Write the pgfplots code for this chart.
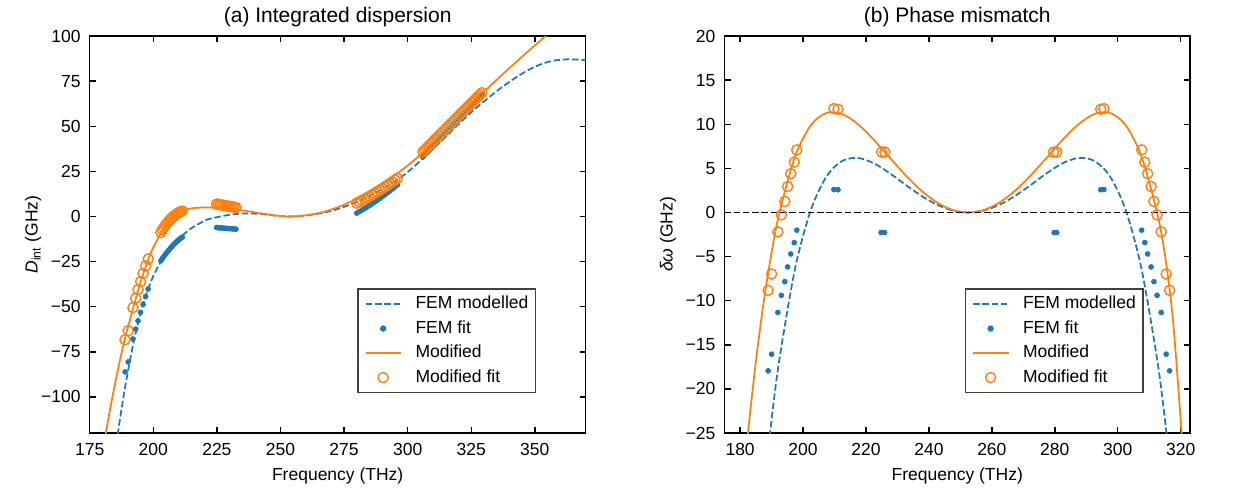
\documentclass[border=0pt]{standalone}
\usepackage{fontspec}
\setmainfont{Liberation Sans}
\usepackage{pgfplots}
\pgfplotsset{compat=1.18}
\definecolor{tabblue}{HTML}{1F77B4}
\definecolor{taborange}{HTML}{FF7F0E}

\pgfplotsset{
  mpl/.style={
    scale only axis,
    height=226.8pt,
    axis line style={line width=0.8pt},
    every tick/.style={line width=0.8pt, black},
    major tick length=3.5pt,
    tick align=inside,
    minor tick num=0,
    /pgf/number format/assume math mode=true,
    tick label style={font=\fontsize{10}{12}\selectfont},
    xticklabel style={anchor=base, inner sep=0pt, yshift=-12.7pt},
    yticklabel style={anchor=east, inner sep=0pt, xshift=-5pt},
    label style={font=\fontsize{10}{12}\selectfont},
    every axis title/.style={at={(0.5,1)}, anchor=base, yshift=8pt,
      font=\fontsize{12}{14}\selectfont},
    xlabel style={at={(axis description cs:0.5,0)}, anchor=base, yshift=-27.3pt},
    legend cell align=left,
    legend image code/.code={%
      \draw[mark repeat=2,mark phase=2,#1]
        plot coordinates {(0pt,0pt) (10pt,0pt) (20pt,0pt)};},
    legend style={at={(0.9,0.1)}, anchor=south east, draw=black!75,
      line width=0.8pt, fill=white, inner xsep=4pt, inner ysep=4pt,
      row sep=4.8pt, column sep=8pt, font=\fontsize{10}{12}\selectfont,
      nodes={inner sep=0pt, text height=7.2pt, text depth=2pt}},
  },
  femline/.style={color=tabblue, line width=1pt, dash pattern=on 3.7pt off 1.6pt, smooth},
  femfit/.style={only marks, mark=*, mark size=1.4pt, color=tabblue,
    mark options={draw=tabblue, fill=tabblue}},
  modline/.style={color=taborange, line width=1pt, smooth},
  modfit/.style={only marks, mark=o, mark size=2.9pt, color=taborange,
    mark options={line width=0.8pt}},
}

\begin{document}
\begin{tikzpicture}
\useasboundingbox (0,0) rectangle (706.8pt,281.7pt);

% (a) integrated dispersion
\begin{axis}[
    mpl,
    at={(51.25pt,34.28pt)}, anchor=south west,
    width=283.4pt,
    title={(a) Integrated dispersion},
    xlabel={Frequency (THz)},
    ylabel={\textit{D}\textsubscript{int} (GHz)},
    ylabel style={at={(axis description cs:-0.114,0.5)}, anchor=center},
    xmin=175, xmax=370,
    ymin=-120, ymax=100,
    xtick={175,200,225,250,275,300,325,350},
    ytick={-100,-75,-50,-25,0,25,50,75,100},
    yticklabels={−100,−75,−50,−25,0,25,50,75,100},
]
\addplot[femline] coordinates {
(186,-121)(187,-111.5)(188,-102.5)(189,-94)(190,-86)(191,-78.5)(192,-71.5)
(193,-65)(194,-59)(195,-53.5)(196,-48.5)(197,-44)(198,-40)(200,-33)(202,-27.5)
(204,-22.6)(206,-18.7)(208,-15.3)(210,-12.3)(212,-9.8)(215,-6.5)(218,-4.0)
(221,-1.8)(224,-0.7)(228,0.5)(232,1.3)(236,1.7)(240,1.6)(244,1.1)(248,0.5)
(253,0)(257,0.3)(261,0.8)(265,1.6)(269,2.8)(273,4.4)(277,6.4)(281,8.7)
(285,11.4)(289,14.4)(293,17.7)(297,21.3)(301,25.8)(305,30.8)(309,36.1)
(313,41.5)(317,47)(321,52.5)(325,57.8)(329,62.6)(333,67.2)(337,71.6)
(341,75.6)(345,79.2)(349,82.3)(353,84.7)(357,86.3)(361,87.0)(365,87.1)(370,86.6)
};
\addlegendentry{FEM modelled}

\addplot[femfit] coordinates {
(188.9,-86.1)(190.1,-80.6)(192.0,-67.9)(193.1,-62.4)(194.0,-57.8)(195.0,-53.1)
(196.0,-48.7)(197.0,-44.4)(198.0,-40.2)
(203.0,-24.5)(203.6,-23.2)(204.2,-22.0)(204.8,-20.9)(205.4,-19.8)(206.0,-18.8)
(206.6,-17.8)(207.2,-16.8)(207.8,-15.9)(208.4,-15.0)(209.0,-14.2)(209.6,-13.4)
(210.2,-12.7)(210.8,-12.0)(211.4,-11.5)
(224.9,-6.1)(225.6,-6.2)(226.3,-6.3)(226.9,-6.35)(227.6,-6.45)(228.3,-6.5)
(229.0,-6.6)(229.7,-6.7)(230.4,-6.75)(231.1,-6.85)(231.8,-6.9)(232.5,-7.0)
(280,1.90)(281,2.69)(282,3.51)(283,4.35)(284,5.22)(285,6.11)(286,7.03)
(287,7.97)(288,8.94)(289,9.93)(290,10.95)(291,11.99)(292,13.06)(293,14.15)
(294,15.27)(295,16.41)(296,17.58)
(306.0,33.00)(306.8,34.19)(307.6,35.38)(308.4,36.57)(309.2,37.76)(310.0,38.95)
(310.8,40.14)(311.6,41.33)(312.4,42.52)(313.2,43.71)(314.0,44.90)(314.8,46.09)
(315.6,47.28)(316.4,48.46)(317.2,49.65)(318.0,50.84)(318.8,52.03)(319.6,53.22)
(320.4,54.41)(321.2,55.60)(322.0,56.79)(322.8,57.98)(323.6,59.17)(324.4,60.36)
(325.2,61.55)(326.0,62.74)(326.8,63.93)(327.6,65.12)(328.4,66.31)(329.2,67.50)
};
\addlegendentry{FEM fit}

\addplot[modline] coordinates {
(181,-122.6)(183,-107)(185,-92.4)(187,-79)(189,-66.7)(191,-56.3)(193,-46.1)
(195,-36.3)(197,-27.9)(199,-20.2)(201,-14.5)(203,-9.3)(205,-5.0)(207,-1.4)
(209,1.2)(211,2.9)(213,3.9)(216,4.7)(220,5.0)(224,4.9)(228,4.5)(232,4.0)
(236,3.2)(240,2.3)(244,1.4)(248,0.6)(251,0.15)(253.5,0)(256,0.12)(259,0.5)
(262,1.1)(265,1.9)(269,3.4)(273,5.4)(277,7.8)(281,10.5)(285,13.7)(289,17.2)
(293,21.0)(297,25.0)(301,29.4)(305,34.2)(309,39.3)(313,45.0)(317,50.7)
(321,56.4)(325,62.0)(329,67.7)(333,73.1)(337,78.4)(341,83.5)(345,88.6)
(349,93.6)(353,98.5)(357,103.3)
};
\addlegendentry{Modified}

\addplot[modfit] coordinates {
(188.9,-68.3)(190.1,-63.3)(192.0,-50.5)(193.1,-45.3)(194.0,-40.5)(195.0,-36.1)
(196.0,-31.6)(197.0,-27.4)(198.0,-23.5)
(203.0,-8.8)(203.6,-7.3)(204.2,-6.0)(204.8,-4.8)(205.4,-3.7)(206.0,-2.7)
(206.6,-1.8)(207.2,-0.9)(207.8,-0.1)(208.4,0.6)(209.0,1.2)(209.6,1.8)
(210.2,2.3)(210.8,2.7)(211.4,3.0)
(224.9,6.9)(225.6,6.8)(226.3,6.6)(226.9,6.4)(227.6,6.2)(228.3,6.0)
(229.0,5.9)(229.7,5.7)(230.4,5.5)(231.1,5.4)(231.8,5.2)(232.5,5.0)
(280,7.40)(281,8.13)(282,8.88)(283,9.64)(284,10.42)(285,11.23)(286,12.04)
(287,12.88)(288,13.74)(289,14.61)(290,15.50)(291,16.41)(292,17.34)(293,18.28)
(294,19.24)(295,20.23)(296,21.22)
(306.0,35.80)(306.8,36.93)(307.6,38.06)(308.4,39.19)(309.2,40.32)(310.0,41.46)
(310.8,42.59)(311.6,43.72)(312.4,44.85)(313.2,45.98)(314.0,47.11)(314.8,48.24)
(315.6,49.37)(316.4,50.51)(317.2,51.64)(318.0,52.77)(318.8,53.90)(319.6,55.03)
(320.4,56.16)(321.2,57.29)(322.0,58.42)(322.8,59.56)(323.6,60.69)(324.4,61.82)
(325.2,62.95)(326.0,64.08)(326.8,65.21)(327.6,66.34)(328.4,67.47)(329.2,68.60)
};
\addlegendentry{Modified fit}
\end{axis}

% (b) phase mismatch
\begin{axis}[
    mpl,
    at={(413.9pt,34.28pt)}, anchor=south west,
    width=266.1pt,
    title={(b) Phase mismatch},
    xlabel={Frequency (THz)},
    ylabel={\textit{δω} (GHz)},
    ylabel style={at={(axis description cs:-0.121,0.5)}, anchor=center},
    xmin=175, xmax=323,
    ymin=-25, ymax=20,
    xtick={180,200,220,240,260,280,300,320},
    ytick={-25,-20,-15,-10,-5,0,5,10,15,20},
    yticklabels={−25,−20,−15,−10,−5,0,5,10,15,20},
]
\addplot[femline] coordinates {
(187.5,-31.69)(190,-23.47)(192.5,-16.60)(197.5,-6.29)(202.5,0.31)(207.5,4.11)
(212.5,5.86)(217.5,6.18)(222.5,5.58)(227.5,4.47)(232.5,3.16)(237.5,1.91)
(242.5,0.89)(247.5,0.23)(252.5,0)(257.5,0.23)(262.5,0.89)(267.5,1.91)
(272.5,3.16)(277.5,4.47)(282.5,5.58)(287.5,6.18)(292.5,5.86)(297.5,4.11)
(302.5,0.31)(307.5,-6.29)(312.5,-16.60)(315,-23.47)(317.5,-31.69)
};
\addlegendentry{FEM modelled}

\addplot[femfit] coordinates {
(188.9,-17.95)(190.0,-16.06)(192.0,-11.33)(193.1,-9.39)(194.2,-7.84)(195.1,-6.17)
(196.1,-4.70)(197.2,-3.41)(198.0,-2.00)(209.8,2.61)(211.1,2.58)(224.8,-2.27)
(225.9,-2.27)(279.8,-2.27)(280.6,-2.27)(294.6,2.58)(295.6,2.61)(307.6,-2.00)
(308.6,-3.41)(309.5,-4.70)(310.6,-6.17)(311.5,-7.84)(312.5,-9.39)(313.8,-11.33)
(315.4,-16.06)(316.5,-17.95)
};
\addlegendentry{FEM fit}

\addplot[modline] coordinates {
(180.5,-32.5)(182.5,-25.0)(185,-16.90)(187.5,-10.13)(190,-4.54)(192.5,0)
(197.5,6.39)(202.5,9.91)(207.5,11.30)(212.5,11.15)(217.5,10.00)(222.5,8.24)
(227.5,6.24)(232.5,4.26)(237.5,2.51)(242.5,1.15)(247.5,0.29)(252.5,0)
(257.5,0.29)(262.5,1.15)(267.5,2.51)(272.5,4.26)(277.5,6.24)(282.5,8.24)
(287.5,10.00)(292.5,11.15)(297.5,11.30)(302.5,9.91)(307.5,6.39)(312.5,0)
(315,-4.8)(317.5,-12.0)(320,-23.5)(322.5,-36.0)
};
\addlegendentry{Modified}

\addplot[modfit] coordinates {
(188.9,-8.83)(190.0,-6.97)(192.0,-2.20)(193.1,-0.27)(194.2,1.25)(195.1,2.95)
(196.1,4.40)(197.2,5.70)(198.0,7.10)(209.8,11.78)(211.1,11.70)(225.0,6.85)
(226.0,6.85)(279.6,6.85)(280.6,6.85)(294.6,11.70)(295.6,11.78)(307.6,7.10)
(308.6,5.70)(309.5,4.40)(310.6,2.95)(311.5,1.25)(312.5,-0.27)(313.8,-2.20)
(315.4,-6.97)(316.5,-8.83)
};
\addlegendentry{Modified fit}

\addplot[black, line width=1pt, dash pattern=on 3.7pt off 1.6pt, forget plot]
  coordinates {(175,0)(323,0)};
\end{axis}
\end{tikzpicture}
\end{document}
